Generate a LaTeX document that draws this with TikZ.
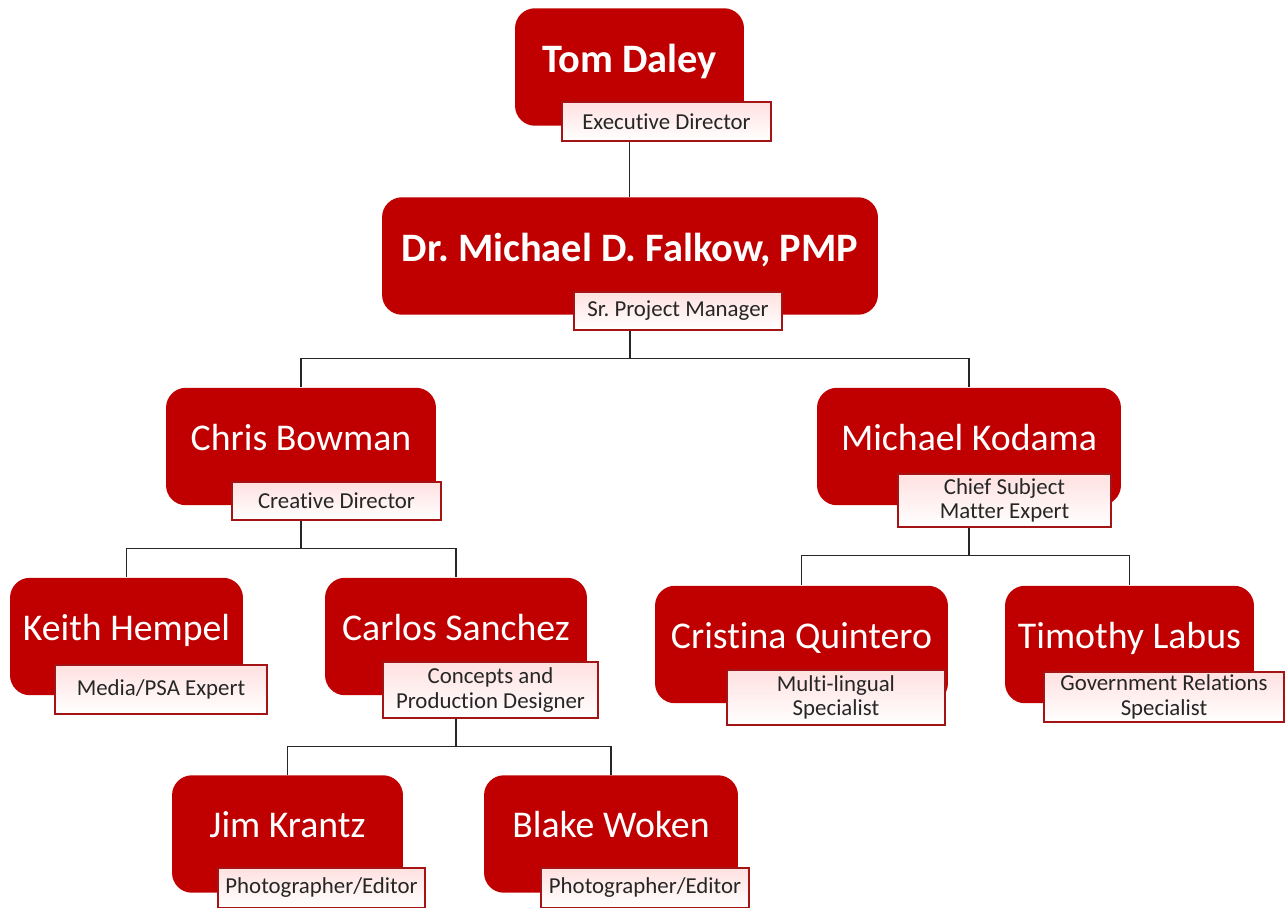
\documentclass[tikz,border=0pt]{standalone}
\usepackage{fontspec}
\setmainfont{Carlito}[Ligatures=NoCommon]
\usepackage{tikz}
\usetikzlibrary{positioning,calc}
\definecolor{boxred}{RGB}{192,0,0}
\definecolor{rolered}{RGB}{165,20,20}
\frenchspacing

\begin{document}
\begin{tikzpicture}[
		x=0.02cm, y=-0.02cm,
		person/.style={rectangle, rounded corners=0.4cm, fill=boxred, text=white, inner sep=0pt, minimum height=2.35cm, font=\fontsize{21.5}{24}\selectfont, text height=0.6cm, text depth=0.46cm},
		boss/.style={person, font=\fontsize{23}{26}\selectfont\bfseries, text depth=0.4cm},
		role/.style={rectangle, draw=rolered, line width=0.8pt, top color=red!12, bottom color=white, text=black!85, align=center, inner sep=0pt, font=\fontsize{13}{14}\selectfont},
		link/.style={draw=black!85, line width=0.7pt}
	]
	\useasboundingbox (0,0) rectangle (1286,907);
	% people
	\node[boss, minimum width=4.58cm]   (tom)      at (629.5,67)    {Tom Daley};
	\node[boss, minimum width=9.92cm]   (falkow)   at (630,256)     {Dr. Michael D. Falkow, PMP};
	\node[person, minimum width=5.4cm]  (chris)    at (301,446.5)   {Chris Bowman};
	\node[person, minimum width=6.08cm] (kodama)   at (969,446.5)   {Michael Kodama};
	\node[person, minimum width=4.66cm] (keith)    at (126.5,636.5) {Keith Hempel};
	\node[person, minimum width=5.24cm] (carlos)   at (456,636.5)   {Carlos Sanchez};
	\node[person, minimum width=5.86cm] (cristina) at (801.5,644.5) {Cristina Quintero};
	\node[person, minimum width=4.98cm] (timothy)  at (1129.5,644.5){Timothy Labus};
	\node[person, minimum width=4.62cm] (jim)      at (287.5,834)   {Jim Krantz};
	\node[person, minimum width=5.08cm] (blake)    at (611,834)     {Blake Woken};
	% titles
	\node[role, minimum width=4.18cm, minimum height=0.78cm] (tom-role)      at (666.5,121.5) {Executive Director};
	\node[role, minimum width=4.16cm, minimum height=0.76cm] (falkow-role)   at (678,311)     {Sr. Project Manager};
	\node[role, minimum width=4.18cm, minimum height=0.76cm] (chris-role)    at (336.5,501)   {Creative Director};
	\node[role, minimum width=4.26cm, minimum height=1.06cm] (kodama-role)   at (1004.5,500.5){Chief Subject\\Matter Expert};
	\node[role, minimum width=4.24cm, minimum height=0.98cm] (keith-role)    at (161,689.5)   {Media/PSA Expert};
	\node[role, minimum width=4.3cm,  minimum height=1.12cm] (carlos-role)   at (490.5,690)   {Concepts and\\Production Designer};
	\node[role, minimum width=4.36cm, minimum height=1.1cm]  (cristina-role) at (836,697.5)   {Multi-lingual\\Specialist};
	\node[role, minimum width=4.8cm,  minimum height=1.0cm]  (timothy-role)  at (1164,697)    {Government Relations\\Specialist};
	\node[role, minimum width=4.14cm, minimum height=0.8cm]  (jim-role)      at (321.5,888)   {Photographer/Editor};
	\node[role, minimum width=4.16cm, minimum height=0.8cm]  (blake-role)    at (645,888)     {Photographer/Editor};
	% lines
	\draw[link] (tom |- tom-role.south) -- (tom |- falkow.north);
	\draw[link] (falkow |- falkow-role.south) -- ++(0,28) -| (chris.north);
	\draw[link] (falkow |- falkow-role.south) -- ++(0,28) -| (kodama.north);
	\draw[link] (chris |- chris-role.south) -- ++(0,28) -| (keith.north);
	\draw[link] (chris |- chris-role.south) -- ++(0,28) -| (carlos.north);
	\draw[link] (kodama |- kodama-role.south) -- ++(0,28) -| (cristina.north);
	\draw[link] (kodama |- kodama-role.south) -- ++(0,28) -| (timothy.north);
	\draw[link] (carlos |- carlos-role.south) -- ++(0,28) -| (jim.north);
	\draw[link] (carlos |- carlos-role.south) -- ++(0,28) -| (blake.north);
\end{tikzpicture}
\end{document}
